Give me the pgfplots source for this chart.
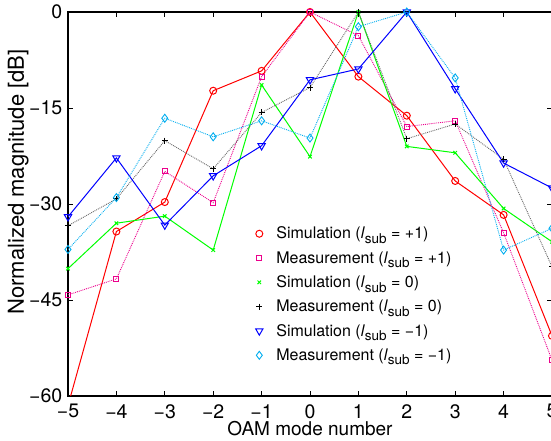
\documentclass[border=0pt]{standalone}
\usepackage{fontspec}
\setmainfont{TeX Gyre Heros}
\usepackage{pgfplots}
\pgfplotsset{compat=1.18}
\newcommand{\mi}{\char"2212\relax}
\newcommand{\lsub}{\textit{l}\raisebox{-0.55ex}{\fontsize{13.5}{14}\selectfont sub}}

\begin{document}
\begin{tikzpicture}
\begin{axis}[
  name=ax,
  scale only axis,
  width=484pt, height=384pt,
  xmin=-5, xmax=5, ymin=-60, ymax=0,
  xtick={-5,...,5},
  xticklabels={\mi5,\mi4,\mi3,\mi2,\mi1,0,1,2,3,4,5},
  ytick={-60,-45,-30,-15,0},
  yticklabels={\mi60,\mi45,\mi30,\mi15,0},
  tick label style={font=\fontsize{19.5}{23}\selectfont, inner sep=1pt},
  xticklabel style={yshift=-7pt},
  yticklabel style={xshift=-4.5pt},
  xlabel style={font=\fontsize{19}{23}\selectfont, at={(axis description cs:0.5,0)},
    anchor=center, inner sep=1pt, yshift=-32.5pt},
  ylabel style={font=\fontsize{22}{25}\selectfont, yshift=-4pt, xshift=22pt},
  xlabel={OAM mode number},
  ylabel={Normalized magnitude [dB]},
  major tick length=5pt,
  tick style={black, line width=0.8pt},
  axis line style={line width=1.3pt},
  legend image post style={draw opacity=0, every mark/.append style={draw opacity=1}},
  legend style={draw=none, fill=none, font=\fontsize{16}{19}\selectfont,
    at={(0.370,0.451)}, anchor=north west, row sep=7pt, column sep=6pt},
  legend cell align=left,
]
\addplot[red, line width=1pt, mark=o, mark size=3.5pt] coordinates {
  (-5,-61.5) (-4,-34.3) (-3,-29.7) (-2,-12.3) (-1,-9.2) (0,0)
  (1,-10.1) (2,-16.2) (3,-26.4) (4,-31.7) (5,-50.6)
};
\addlegendentry{Simulation (\lsub{} = +1)}
\addplot[magenta, line width=0.9pt, densely dotted, mark=square, mark size=2.5pt, mark options={solid}] coordinates {
  (-5,-44.2) (-4,-41.7) (-3,-24.9) (-2,-29.8) (-1,-10.1) (0,0)
  (1,-3.7) (2,-17.9) (3,-17.0) (4,-34.5) (5,-54.4)
};
\addlegendentry{Measurement (\lsub{} = +1)}
\addplot[green, line width=1pt, mark=x, mark size=2.5pt] coordinates {
  (-5,-40.1) (-4,-33.0) (-3,-31.9) (-2,-37.2) (-1,-11.4) (0,-22.6)
  (1,0) (2,-21.0) (3,-22.0) (4,-30.7) (5,-35.9)
};
\addlegendentry{Simulation (\lsub{} = 0)}
\addplot[black!60, line width=0.9pt, densely dotted, mark=+, mark size=3pt, mark options={solid, black}] coordinates {
  (-5,-33.4) (-4,-29.2) (-3,-20.1) (-2,-24.5) (-1,-15.7) (0,-11.8)
  (1,0) (2,-19.8) (3,-17.5) (4,-23.0) (5,-39.8)
};
\addlegendentry{Measurement (\lsub{} = 0)}
\addplot[blue, line width=1pt, mark=triangle, mark size=4.2pt, mark options={rotate=180}] coordinates {
  (-5,-32.0) (-4,-22.8) (-3,-33.3) (-2,-25.6) (-1,-20.9) (0,-10.6)
  (1,-8.9) (2,0) (3,-12.0) (4,-23.6) (5,-27.5)
};
\addlegendentry{Simulation (\lsub{} = \mi1)}
\addplot[cyan, line width=0.9pt, densely dotted, mark=diamond, mark size=4pt, mark options={solid}] coordinates {
  (-5,-37.1) (-4,-29.0) (-3,-16.6) (-2,-19.5) (-1,-17.0) (0,-19.7)
  (1,-2.3) (2,0) (3,-10.3) (4,-37.2) (5,-33.8)
};
\addlegendentry{Measurement (\lsub{} = \mi1)}
\end{axis}
\pgfresetboundingbox
\useasboundingbox ([xshift=-68pt,yshift=-45pt]ax.south west) rectangle ([xshift=-1pt,yshift=12pt]ax.north east);
\end{tikzpicture}
\end{document}
